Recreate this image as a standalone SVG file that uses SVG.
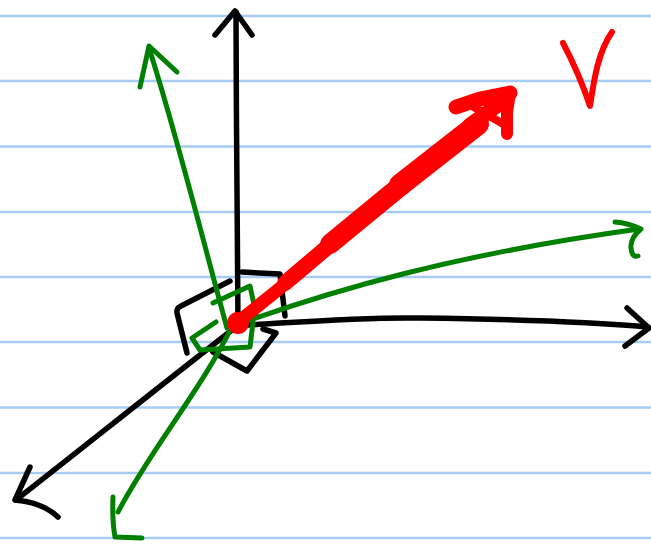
<svg xmlns="http://www.w3.org/2000/svg" width="651" height="544" viewBox="0 0 651 544">
<style>
.rule{stroke:#a6cbf5;stroke-width:2.5;fill:none}
.k{stroke:#000;stroke-width:5.5;fill:none;stroke-linecap:round;stroke-linejoin:round}
.g{stroke:#008000;stroke-width:5;fill:none;stroke-linecap:round;stroke-linejoin:round}
.r{stroke:#ff0000;fill:none;stroke-linecap:round;stroke-linejoin:round}
</style>
<rect width="651" height="544" fill="#fff"/>
<g id="paper">
<line class="rule" x1="0" y1="16" x2="651" y2="16"/>
<line class="rule" x1="0" y1="81" x2="651" y2="81"/>
<line class="rule" x1="0" y1="146.5" x2="651" y2="146.5"/>
<line class="rule" x1="0" y1="212" x2="651" y2="212"/>
<line class="rule" x1="0" y1="277" x2="651" y2="277"/>
<line class="rule" x1="0" y1="342" x2="651" y2="342"/>
<line class="rule" x1="0" y1="407.5" x2="651" y2="407.5"/>
<line class="rule" x1="0" y1="473" x2="651" y2="473"/>
<line class="rule" x1="0" y1="538" x2="651" y2="538"/>
</g>
<g id="black-frame">
<path class="k" d="M238,326 C238,250 236,120 236,12"/>
<path class="k" d="M215,35 L235,11 L252,35"/>
<path class="k" d="M248,325 C300,322 360,317 420,318 C500,319 580,321 648,327"/>
<path class="k" d="M627,308 L649,328 L625,346"/>
<path class="k" d="M245,320 C180,370 80,450 16,500"/>
<path class="k" d="M30,467 L15,500 Q42,502 58,517"/>
<path class="k" d="M230,281 L181,306 Q176,308 177,313 L187,353"/>
<path class="k" d="M213,352 L247,371 L276,333 L263,329"/>
<path class="k" d="M242,272 L280,274 L285,316"/>
</g>
<g id="green-frame">
<path class="g" d="M227,328 C206,252 176,132 149,48"/>
<path class="g" d="M140,87 L149,46 L177,72"/>
<path class="g" d="M250,320 C330,292 450,255 639,229"/>
<path class="g" d="M615,222 Q628,223 641,229 Q630,238 631,248 Q632,258 638,256"/>
<path class="g" d="M234,322 C205,385 150,450 118,512"/>
<path class="g" d="M113,497 Q112,520 115,537 L142,538"/>
<path class="g" d="M213,303 L250,286 L256,314"/>
<path class="g" d="M216,322 L192,338 L200,350 L250,347 L253,322"/>
</g>
<g id="vector-v">
<circle cx="238" cy="323" r="11" fill="#ff0000"/>
<path class="r" stroke-width="13" d="M238,322 L300,272"/>
<path class="r" stroke-width="16" d="M285,283 L350,228"/>
<path class="r" stroke-width="20" d="M330,244 L420,170"/>
<path class="r" stroke-width="22" d="M400,185 L478,124"/>
<path class="r" stroke-width="15" d="M470,125 L505,100"/>
<path class="r" stroke-width="15" d="M456,107 L480,99 L510,93"/>
<path class="r" stroke-width="12" d="M510,93 L507,112 L507,134"/>
<path class="r" stroke-width="8" d="M465,102 L505,96 L505,125 Z"/>
<path class="r" stroke-width="6" d="M563,43 C573,62 584,88 590,106 C594,80 598,52 612,32"/>
</g>
</svg>
